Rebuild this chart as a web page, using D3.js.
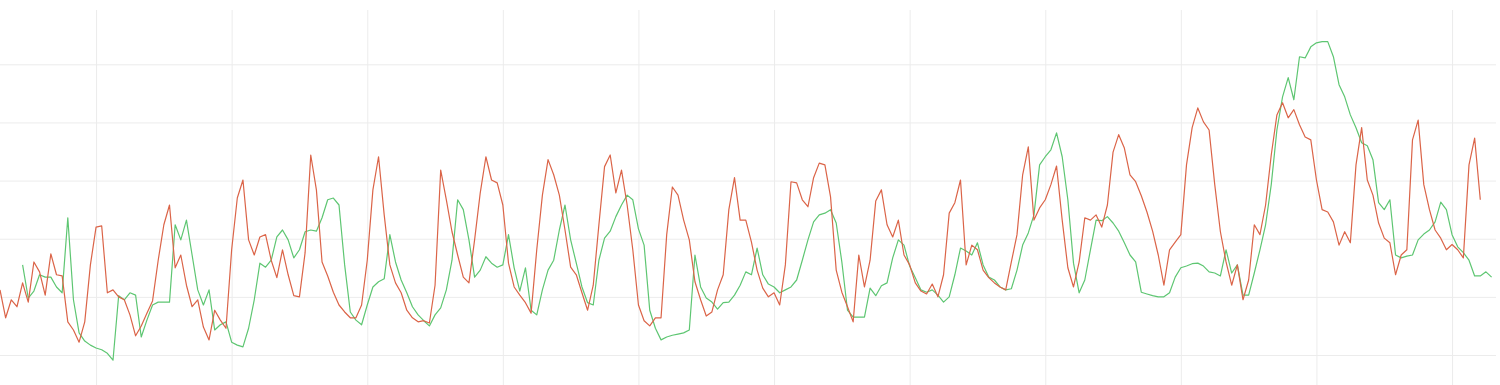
<!DOCTYPE html>
<html>
<head>
<meta charset="utf-8">
<script src="https://cdn.jsdelivr.net/npm/d3@7"></script>
<style>
  body { margin: 0; background: #fff; }
  .grid line { stroke: #ececec; stroke-width: 1; }
  .grid path { display: none; }
</style>
</head>
<body>
<div id="chart"></div>
<script>
// hourly readings, first sample at 07:00 (17 hours before the first day gridline)
var startTime = Date.UTC(2021, 5, 1, 7);
var hoursShown = 265;
var greenOffset = 4; // green series starts 4 hours after the red one
var yTicks = [10, 20, 30, 40, 50, 60];

var redSeries = [
  21.2, 16.4, 19.5, 18.3, 22.4, 19.1, 26.0, 24.3, 20.3, 27.4,
  23.8, 23.6, 15.7, 14.3, 12.2, 15.7, 25.5, 32.0, 32.2, 20.7,
  21.2, 20.0, 19.5, 16.9, 13.3, 15.0, 17.2, 19.3, 26.3, 32.4,
  35.8, 25.0, 27.2, 22.0, 18.3, 19.5, 14.8, 12.6, 17.7, 16.0,
  14.6, 28.1, 37.0, 40.1, 29.8, 27.2, 30.3, 30.7, 26.3, 23.3,
  28.1, 23.8, 20.2, 20.0, 27.6, 44.4, 38.4, 26.0, 23.6, 20.8,
  18.6, 17.4, 16.4, 16.4, 18.6, 26.3, 38.4, 44.1, 34.1, 25.5,
  22.4, 20.7, 17.7, 16.4, 15.7, 15.9, 15.5, 22.0, 41.8, 36.7,
  31.2, 27.2, 23.4, 22.4, 29.8, 37.9, 44.1, 40.1, 39.6, 35.8,
  25.8, 21.7, 20.3, 19.0, 17.2, 28.1, 37.5, 43.6, 41.0, 37.5,
  31.5, 25.1, 23.8, 20.7, 17.7, 22.0, 32.4, 42.4, 44.4, 37.9,
  41.8, 35.8, 28.1, 18.6, 15.9, 15.0, 16.4, 16.4, 30.7, 38.9,
  37.5, 33.2, 29.8, 22.6, 19.5, 16.7, 17.4, 21.2, 23.8, 35.0,
  40.5, 33.2, 33.2, 29.4, 24.6, 21.5, 20.0, 20.7, 18.6, 25.5,
  39.8, 39.6, 36.7, 35.5, 40.5, 43.0, 42.7, 37.2, 24.6, 20.8,
  18.3, 15.7, 27.2, 21.7, 26.3, 36.5, 38.4, 32.4, 30.3, 33.2,
  27.2, 25.5, 22.4, 21.0, 20.5, 22.2, 20.0, 23.8, 34.4, 36.2,
  40.1, 25.5, 28.9, 28.1, 24.6, 23.3, 22.4, 21.7, 21.2, 26.0,
  30.7, 41.0, 45.8, 33.2, 35.3, 36.7, 39.3, 42.5, 33.2, 25.0,
  21.7, 26.0, 33.6, 33.2, 34.1, 32.0, 35.8, 44.9, 47.9, 45.6,
  41.0, 39.8, 37.4, 34.6, 31.3, 27.2, 22.0, 28.1, 29.4, 30.7,
  42.7, 49.1, 52.5, 50.1, 48.7, 39.3, 31.2, 26.0, 22.0, 25.5,
  19.5, 22.9, 32.4, 30.7, 35.8, 44.4, 51.3, 53.4, 50.8, 52.2,
  49.6, 47.5, 47.0, 40.1, 35.0, 34.6, 32.9, 28.9, 31.2, 29.3,
  42.7, 49.1, 40.1, 37.5, 32.7, 30.1, 29.3, 23.8, 27.2, 28.1,
  47.0, 50.4, 39.3, 35.0, 31.5, 30.1, 28.1, 29.0, 28.1, 26.7,
  42.7, 47.3, 36.7
];

var greenSeries = [
  25.5, 19.8, 21.0, 23.8, 23.4, 23.4,
  21.7, 20.7, 33.6, 19.5, 13.8, 12.4, 11.7, 11.2, 10.9, 10.3,
  9.1, 20.2, 19.5, 20.7, 20.3, 13.1, 16.0, 18.6, 19.1, 19.1,
  19.1, 32.4, 29.8, 33.2, 27.2, 21.2, 18.6, 21.2, 14.3, 15.2,
  15.7, 12.2, 11.7, 11.4, 14.6, 19.5, 25.8, 25.1, 26.3, 30.3,
  31.5, 29.8, 26.7, 28.1, 31.2, 31.5, 31.3, 33.6, 36.7, 37.0,
  35.8, 25.5, 17.4, 16.0, 15.2, 18.6, 21.7, 22.6, 23.1, 30.7,
  26.0, 22.9, 20.7, 18.3, 16.9, 15.9, 15.0, 16.9, 18.1, 21.2,
  26.3, 36.7, 35.0, 29.8, 23.4, 24.6, 26.9, 25.8, 25.1, 25.5,
  30.7, 25.0, 21.0, 25.0, 17.7, 16.9, 21.2, 24.6, 26.3, 31.5,
  35.8, 29.8, 25.8, 21.7, 19.0, 18.6, 26.3, 30.1, 31.3, 33.8,
  35.8, 37.5, 36.7, 31.7, 28.9, 17.7, 14.6, 12.6, 13.1, 13.4,
  13.6, 13.8, 14.3, 27.2, 21.7, 19.8, 19.1, 17.9, 19.0, 19.1,
  20.3, 22.0, 24.3, 23.8, 28.4, 23.8, 22.2, 21.7, 20.7, 21.2,
  21.7, 22.9, 26.3, 29.8, 32.9, 34.1, 34.4, 35.0, 32.7, 26.0,
  17.7, 16.5, 16.5, 16.5, 21.5, 20.2, 21.9, 22.4, 26.7, 29.8,
  28.9, 25.3, 23.3, 21.2, 20.8, 21.2, 20.3, 19.1, 20.0, 23.8,
  28.4, 27.9, 27.2, 29.3, 25.5, 23.4, 22.9, 21.7, 21.2, 21.4,
  24.6, 28.9, 31.0, 34.1, 42.7, 44.1, 45.3, 48.2, 44.1, 36.7,
  25.8, 20.7, 22.9, 28.1, 33.2, 33.1, 33.8, 32.7, 31.3, 29.3,
  27.2, 26.0, 20.8, 20.5, 20.2, 20.0, 20.0, 20.7, 23.4, 25.0,
  25.3, 25.7, 25.8, 25.3, 24.3, 24.1, 23.6, 28.1, 24.1, 25.5,
  20.3, 20.3, 24.1, 28.1, 32.4, 39.3, 48.7, 54.4, 57.7, 53.9,
  61.3, 61.1, 63.0, 63.7, 63.9, 63.9, 61.3, 56.5, 54.4, 51.3,
  49.1, 46.5, 46.0, 43.6, 36.2, 35.0, 36.7, 27.2, 26.7, 27.0,
  27.2, 29.8, 30.8, 31.5, 32.9, 36.3, 35.0, 30.7, 28.6, 27.6,
  26.3, 23.6, 23.6, 24.3, 23.4
];

window.addEventListener('load', main);

function main(){
  var width = 1500, height = 385;
  var hour = 3600 * 1000;

  var svg = d3.select('#chart')
    .append('svg')
      .attr('width', width)
      .attr('height', height);

  var x = d3.scaleUtc()
    .domain([new Date(startTime), new Date(startTime + hoursShown * hour)])
    .range([0, 1497.25]);

  var y = d3.scaleLinear()
    .domain([10, 60])
    .range([355, 64.3]);

  // vertical gridlines, one per day
  svg.append('g')
    .attr('class', 'grid')
    .attr('transform', 'translate(0,392)')
    .call(d3.axisBottom(x)
      .ticks(d3.utcDay.every(1))
      .tickSize(-382)
      .tickFormat(''));

  // horizontal gridlines
  svg.append('g')
    .attr('class', 'grid')
    .call(d3.axisLeft(y)
      .tickValues(yTicks)
      .tickSize(-1496)
      .tickFormat(''));

  function lineFor(offset){
    return d3.line()
      .x((d, i) => x(new Date(startTime + (i + offset) * hour)))
      .y(d => y(d));
  }

  svg.append('path')
    .datum(greenSeries)
    .attr('fill', 'none')
    .attr('stroke', '#5ec672')
    .attr('stroke-width', 1.2)
    .attr('stroke-linejoin', 'round')
    .attr('d', lineFor(greenOffset));

  svg.append('path')
    .datum(redSeries)
    .attr('fill', 'none')
    .attr('stroke', '#db6448')
    .attr('stroke-width', 1.2)
    .attr('stroke-linejoin', 'round')
    .attr('d', lineFor(0));
}
</script>
</body>
</html>
